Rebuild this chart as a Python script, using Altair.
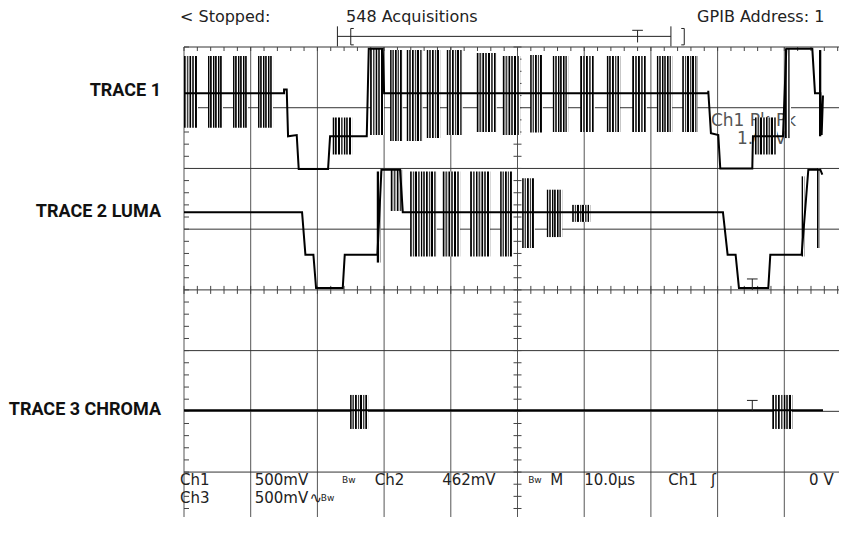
import altair as alt
import pandas as pd

# ---- visible part of the scope screen: time in µs (10 µs/div), level in divisions ----
X_DOMAIN = [0.0, 98.2]
Y_DOMAIN = [-3.74, 4.0]
PLOT_W, PLOT_H = 655, 470

grid_times = [0, 10, 20, 30, 40, 50, 60, 70, 80, 90]
grid_levels = [4, 3, 2, 1, 0, -1, -2, -3]
minor_times = [t * 2 for t in range(50)]
minor_levels = [round(4 - k * 0.2, 2) for k in range(39)]

# ---- Trace 1 ----
trace1_time = [0, 15.0, 15.0, 15.4, 15.6, 16.9, 17.2, 21.6, 21.9, 27.4, 27.7, 29.8, 30.0,
               78.6, 78.6, 79.0, 80.1, 80.4, 85.2, 85.3, 89.8, 90.3, 94.2, 94.6, 95.4, 95.6, 95.8]
trace1_level = [3.24, 3.24, 3.30, 3.30, 2.53, 2.55, 1.99, 1.99, 2.53, 2.53, 3.97, 3.97, 3.24,
                3.24, 3.28, 2.58, 2.55, 2.0, 2.0, 2.53, 2.53, 3.97, 3.97, 3.24, 3.24, 2.55, 3.2]
trace1_burst_start = [0.0, 3.6, 7.35, 11.1, 22.3, 27.9, 30.9, 33.4, 36.4, 39.4, 43.9, 47.8,
                      51.9, 55.3, 59.4, 63.4, 67.2, 70.9, 74.7, 85.6, 90.1, 95.2]
trace1_burst_end = [2.1, 5.85, 9.6, 13.35, 25.2, 30.0, 32.8, 35.8, 38.4, 41.8, 46.9, 50.4,
                    53.8, 57.6, 61.6, 65.4, 69.4, 73.2, 77.0, 88.9, 91.0, 95.8]
trace1_burst_top = [3.85, 3.85, 3.85, 3.85, 2.84, 3.97, 3.95, 3.95, 3.95, 3.95, 3.9, 3.85,
                    3.87, 3.85, 3.85, 3.85, 3.85, 3.85, 3.85, 2.84, 3.97, 3.95]
trace1_burst_bottom = [2.67, 2.67, 2.67, 2.67, 2.23, 2.55, 2.45, 2.45, 2.5, 2.55, 2.6, 2.55,
                       2.59, 2.6, 2.6, 2.6, 2.6, 2.6, 2.6, 2.23, 2.5, 2.53]

# ---- Trace 2 (luma) ----
trace2_time = [0, 17.7, 18.2, 19.4, 19.8, 23.8, 24.1, 29.0, 29.6, 32.4, 32.8,
               80.8, 81.5, 82.7, 83.2, 87.6, 87.9, 92.6, 93.6, 95.4, 95.7]
trace2_level = [1.28, 1.28, 0.58, 0.58, 0.03, 0.03, 0.58, 0.58, 1.98, 1.98, 1.28,
                1.28, 0.58, 0.58, 0.03, 0.03, 0.58, 0.58, 1.98, 1.98, 1.9]
trace2_burst_start = [28.9, 31.0, 33.9, 38.8, 42.9, 47.4, 50.7, 54.4, 58.2, 92.6, 94.9]
trace2_burst_end = [29.5, 32.8, 37.9, 41.4, 45.9, 49.3, 52.6, 56.7, 60.9, 93.0, 95.3]
trace2_burst_top = [1.95, 1.98, 1.95, 1.95, 1.95, 1.95, 1.84, 1.65, 1.40, 1.87, 2.0]
trace2_burst_bottom = [0.45, 1.30, 0.55, 0.55, 0.55, 0.55, 0.69, 0.87, 1.12, 0.55, 0.69]

# ---- Trace 3 (chroma) ----
trace3_time = [0, 95.8]
trace3_level = [-1.98, -1.98]
trace3_burst_start = [24.9, 88.2]
trace3_burst_end = [27.6, 91.2]
trace3_burst_top = [-1.73, -1.73]
trace3_burst_bottom = [-2.29, -2.29]

# ---- labels / readouts ----
trace_labels = ["TRACE 1", "TRACE 2 LUMA", "TRACE 3 CHROMA"]
trace_label_levels = [3.27, 1.28, -1.98]
label_time = -3.45

status_texts = ["< Stopped:", "548 Acquisitions"]
status_times = [-0.6, 24.3]
status_right_text = "GPIB Address: 1"
status_right_time = 96.0
status_level = 4.49

meas_texts = ["Ch1 Pk-Pk", "1.04V"]
meas_times = [79.0, 82.9]
meas_levels = [2.78, 2.49]

row1_texts = ["Ch1", "500mV", "Ch2", "462mV", "M", "10.0µs", "Ch1", "ʃ"]
row1_times = [-0.6, 10.6, 28.6, 38.7, 54.9, 60.0, 72.6, 79.0]
row2_texts = ["Ch3", "500mV", "∿"]
row2_times = [-0.6, 10.6, 18.8]
bw_times = [23.7, 51.6, 20.5]
bw_rows = [1, 1, 2]
row_levels = {1: -3.13, 2: -3.43}
trigger_level_text = "0 V"
trigger_level_time = 97.4

cursor_times = [23.0, 73.0]
bracket_times = [25.0, 75.0]
trigger_time = 68.0
cursor_level = 4.175
trace_trigger_marks = [(85.2, 0.0), (85.2, -2.0)]

# ---------------------------------------------------------------
xs = alt.Scale(domain=X_DOMAIN, nice=False, zero=False)
ys = alt.Scale(domain=Y_DOMAIN, nice=False, zero=False)
PX_PER_US = PLOT_W / (X_DOMAIN[1] - X_DOMAIN[0])
FONT = "DejaVu Sans"


def X(f):
    return alt.X(f"{f}:Q", scale=xs, axis=None)


def Y(f):
    return alt.Y(f"{f}:Q", scale=ys, axis=None)


layers = []

# graticule
layers.append(alt.Chart(pd.DataFrame({"x": grid_times})).mark_rule(color="#555", strokeWidth=1).encode(x=X("x")))
layers.append(alt.Chart(pd.DataFrame({"y": grid_levels})).mark_rule(color="#333", strokeWidth=1).encode(y=Y("y")))

top_ticks = pd.DataFrame({"x": minor_times, "y": 4.0})
layers.append(alt.Chart(top_ticks).mark_rule(color="#444", y2Offset=4).encode(x=X("x"), y=Y("y"), y2=alt.Y2("y")))
mid_ticks = pd.DataFrame({"x": minor_times, "y": 0.0})
layers.append(alt.Chart(mid_ticks).mark_rule(color="#444", yOffset=-4, y2Offset=4).encode(x=X("x"), y=Y("y"), y2=alt.Y2("y")))
left_ticks = pd.DataFrame({"y": minor_levels, "x": 0.0})
layers.append(alt.Chart(left_ticks).mark_rule(color="#444", x2Offset=5).encode(y=Y("y"), x=X("x"), x2=alt.X2("x")))
cen_ticks = pd.DataFrame({"y": minor_levels, "x": 50.0})
layers.append(alt.Chart(cen_ticks).mark_rule(color="#444", xOffset=-4, x2Offset=4).encode(y=Y("y"), x=X("x"), x2=alt.X2("x")))

# measurement readout (sits under the traces)
meas = pd.DataFrame({"x": meas_times, "y": meas_levels, "t": meas_texts})
layers.append(alt.Chart(meas).mark_text(align="left", baseline="middle", font=FONT, fontSize=17, color="#555")
              .encode(x=X("x"), y=Y("y"), text="t:N"))


# bursts drawn as striped blocks
def stripe_fill(n):
    stops = []
    for i in range(n):
        ink = "#000000" if i % 2 == 0 else "#404040"
        a = i / n
        stops += [alt.GradientStop(color=ink, offset=a),
                  alt.GradientStop(color=ink, offset=a + 0.45 / n),
                  alt.GradientStop(color="#ffffff", offset=a + 0.7 / n),
                  alt.GradientStop(color="#ffffff", offset=a + 0.88 / n),
                  alt.GradientStop(color=ink, offset=(i + 1) / n)]
    return alt.LinearGradient(gradient="linear", stops=stops, x1=0, x2=1, y1=0, y2=0)


bursts = pd.concat([
    pd.DataFrame({"s": trace1_burst_start, "e": trace1_burst_end, "top": trace1_burst_top, "bot": trace1_burst_bottom}),
    pd.DataFrame({"s": trace2_burst_start, "e": trace2_burst_end, "top": trace2_burst_top, "bot": trace2_burst_bottom}),
    pd.DataFrame({"s": trace3_burst_start, "e": trace3_burst_end, "top": trace3_burst_top, "bot": trace3_burst_bottom}),
], ignore_index=True)
bursts["n"] = ((bursts["e"] - bursts["s"]) * PX_PER_US / 2.7).round().clip(lower=1).astype(int)
for n, grp in bursts.groupby("n"):
    layers.append(alt.Chart(grp.reset_index(drop=True)).mark_rect(fill=stripe_fill(int(n)), strokeWidth=0)
                  .encode(x=X("s"), x2=alt.X2("e"), y=Y("top"), y2=alt.Y2("bot")))

# trace lines
for tt, lv in [(trace1_time, trace1_level), (trace2_time, trace2_level), (trace3_time, trace3_level)]:
    d = pd.DataFrame({"x": tt, "y": lv, "i": range(len(tt))})
    layers.append(alt.Chart(d).mark_line(color="black", strokeWidth=2).encode(x=X("x"), y=Y("y"), order="i:Q"))

# cursor bracket, trigger markers
segs = [
    (cursor_times[0], cursor_times[1], cursor_level, cursor_level),
    (cursor_times[0], cursor_times[0], cursor_level + 0.165, cursor_level - 0.165),
    (cursor_times[1], cursor_times[1], cursor_level + 0.165, cursor_level - 0.165),
    (bracket_times[0], bracket_times[0], cursor_level + 0.13, cursor_level - 0.14),
    (bracket_times[0], bracket_times[0] + 0.45, cursor_level + 0.13, cursor_level + 0.13),
    (bracket_times[0], bracket_times[0] + 0.45, cursor_level - 0.14, cursor_level - 0.14),
    (bracket_times[1], bracket_times[1], cursor_level + 0.13, cursor_level - 0.14),
    (bracket_times[1] - 0.45, bracket_times[1], cursor_level + 0.13, cursor_level + 0.13),
    (bracket_times[1] - 0.45, bracket_times[1], cursor_level - 0.14, cursor_level - 0.14),
    (trigger_time - 0.8, trigger_time + 0.8, cursor_level + 0.1, cursor_level + 0.1),
    (trigger_time, trigger_time, cursor_level + 0.1, cursor_level - 0.1),
]
for tx, ty in trace_trigger_marks:
    segs.append((tx - 0.8, tx + 0.8, ty + 0.18, ty + 0.18))
    segs.append((tx, tx, ty + 0.18, ty))
seg_df = pd.DataFrame(segs, columns=["x", "x2", "y", "y2"])
layers.append(alt.Chart(seg_df).mark_rule(color="#222", strokeWidth=1)
              .encode(x=X("x"), x2=alt.X2("x2"), y=Y("y"), y2=alt.Y2("y2")))

# status line
st = pd.DataFrame({"x": status_times, "y": status_level, "t": status_texts})
layers.append(alt.Chart(st).mark_text(align="left", baseline="middle", font=FONT, fontSize=16, color="#222")
              .encode(x=X("x"), y=Y("y"), text="t:N"))
st2 = pd.DataFrame({"x": [status_right_time], "y": status_level, "t": [status_right_text]})
layers.append(alt.Chart(st2).mark_text(align="right", baseline="middle", font=FONT, fontSize=16, color="#222")
              .encode(x=X("x"), y=Y("y"), text="t:N"))

# bottom readouts
rows = pd.concat([
    pd.DataFrame({"x": row1_times, "y": row_levels[1], "t": row1_texts}),
    pd.DataFrame({"x": row2_times, "y": row_levels[2], "t": row2_texts}),
], ignore_index=True)
layers.append(alt.Chart(rows).mark_text(align="left", baseline="middle", font=FONT, fontSize=15, color="#222")
              .encode(x=X("x"), y=Y("y"), text="t:N"))
bw = pd.DataFrame({"x": bw_times, "y": [row_levels[r] for r in bw_rows], "t": "Bw"})
layers.append(alt.Chart(bw).mark_text(align="left", baseline="middle", font=FONT, fontSize=9, color="#222")
              .encode(x=X("x"), y=Y("y"), text="t:N"))
tl = pd.DataFrame({"x": [trigger_level_time], "y": row_levels[1], "t": [trigger_level_text]})
layers.append(alt.Chart(tl).mark_text(align="right", baseline="middle", font=FONT, fontSize=15, color="#222")
              .encode(x=X("x"), y=Y("y"), text="t:N"))

# trace labels
lab = pd.DataFrame({"x": label_time, "y": trace_label_levels, "t": trace_labels})
layers.append(alt.Chart(lab).mark_text(align="right", baseline="middle", font="Roboto", fontWeight="bold",
                                        fontSize=18, color="#111")
              .encode(x=X("x"), y=Y("y"), text="t:N"))

chart = alt.layer(*layers).properties(
    width=PLOT_W, height=PLOT_H,
    padding={"left": 176, "top": 39, "right": 0, "bottom": 0},
    autosize=alt.AutoSizeParams(type="none"),
    background="white",
).configure_view(strokeWidth=0)

chart.save("out.html", embed_options={"renderer": "svg", "actions": False})
